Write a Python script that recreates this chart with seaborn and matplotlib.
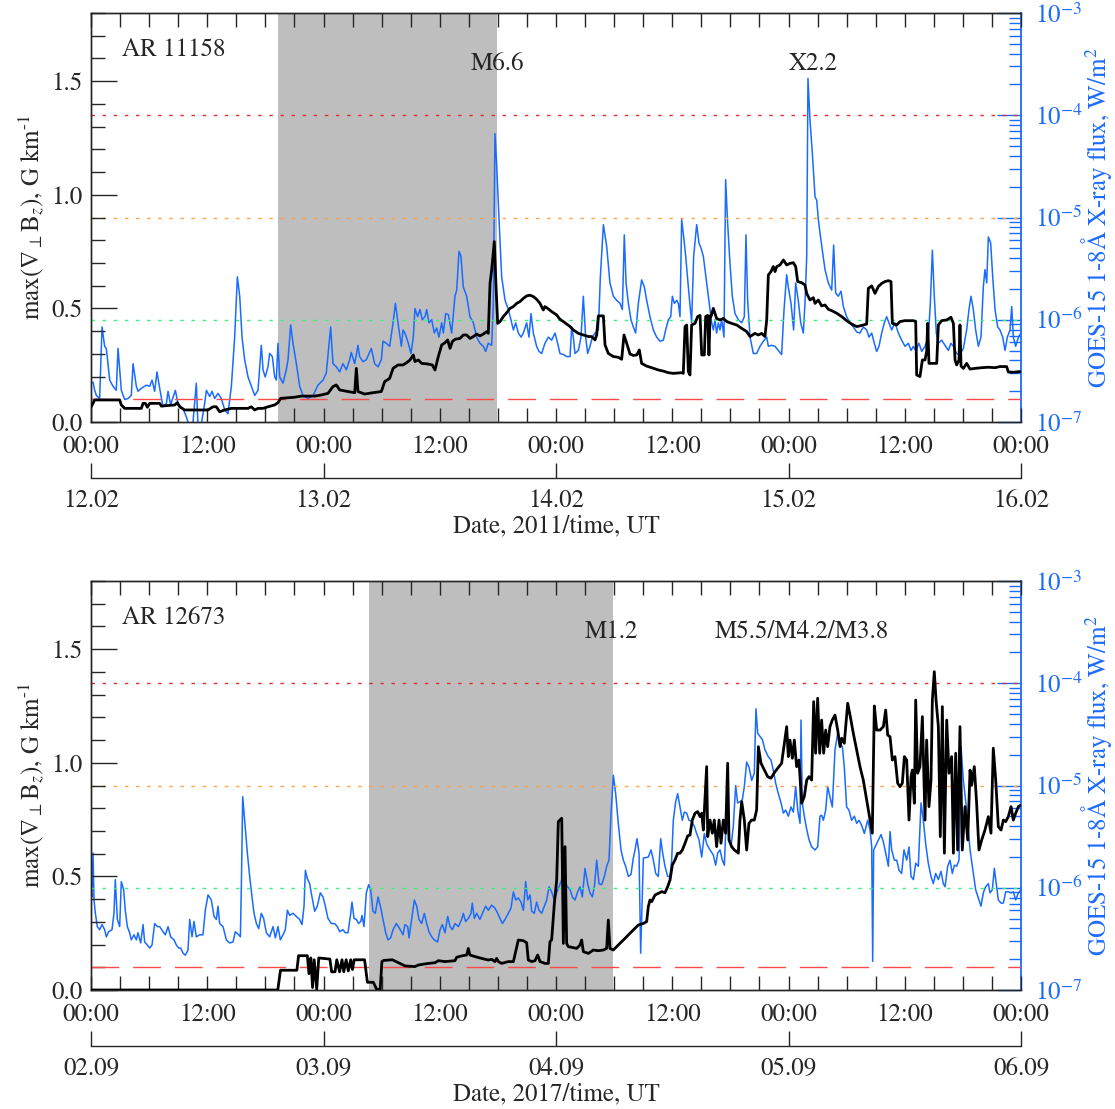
import numpy as np
import pandas as pd
import matplotlib
matplotlib.use("Agg")
import matplotlib.pyplot as plt
import seaborn as sns
from matplotlib.ticker import FixedLocator, MultipleLocator, LogLocator, NullFormatter, NullLocator

# ---------------- data (hours since start of each 4-day window) ----------------
# AR 11158 (12.02-16.02.2011): max gradient, G/km
AR11158_GRAD = [
    (0.0, 0.065), (0.38, 0.097), (2.96, 0.097), (3.13, 0.075), (3.48, 0.060), (5.20, 0.060), (5.37, 0.082),
    (5.61, 0.082), (5.82, 0.065), (6.06, 0.082), (7.09, 0.082), (7.26, 0.070), (8.64, 0.075), (8.91, 0.085),
    (9.15, 0.067), (9.67, 0.053), (12.08, 0.053), (12.59, 0.067), (12.94, 0.067), (13.28, 0.045), (13.80, 0.053),
    (14.49, 0.060), (16.21, 0.060), (16.55, 0.067), (16.90, 0.053), (17.24, 0.060), (17.76, 0.060), (18.27, 0.067),
    (18.96, 0.075), (19.30, 0.085), (19.58, 0.104), (21.02, 0.109), (21.71, 0.114), (23.09, 0.114), (23.78, 0.119),
    (24.46, 0.126), (24.98, 0.156), (25.33, 0.163), (25.67, 0.141), (26.53, 0.134), (27.22, 0.129), (27.39, 0.236),
    (27.56, 0.134), (28.25, 0.123), (29.11, 0.129), (29.97, 0.134), (30.32, 0.178), (30.83, 0.192), (31.18, 0.236),
    (31.69, 0.251), (32.21, 0.251), (32.58, 0.261), (32.93, 0.273), (33.27, 0.295), (33.44, 0.266), (33.79, 0.273),
    (34.13, 0.258), (34.82, 0.255), (35.23, 0.251), (35.51, 0.229), (35.68, 0.258), (35.85, 0.288), (36.20, 0.339),
    (36.54, 0.349), (36.82, 0.361), (37.06, 0.324), (37.30, 0.354), (37.57, 0.364), (38.09, 0.368), (38.43, 0.383),
    (38.78, 0.383), (39.12, 0.368), (39.47, 0.376), (39.81, 0.387), (40.15, 0.379), (40.50, 0.387), (40.84, 0.398),
    (41.01, 0.390), (41.19, 0.610), (41.36, 0.669), (41.63, 0.794), (41.81, 0.596), (41.98, 0.434), (42.22, 0.442),
    (42.56, 0.464), (42.91, 0.481), (43.25, 0.500), (43.60, 0.508), (43.94, 0.522), (44.28, 0.530), (44.63, 0.544),
    (44.97, 0.555), (45.32, 0.558), (45.66, 0.552), (46.00, 0.540), (46.35, 0.522), (46.69, 0.493), (46.86, 0.508),
    (47.14, 0.500), (47.55, 0.486), (48.07, 0.471), (48.41, 0.452), (48.76, 0.442), (49.10, 0.431), (49.45, 0.420),
    (49.79, 0.405), (50.31, 0.390), (50.82, 0.383), (51.34, 0.376), (51.68, 0.376), (52.03, 0.361), (52.20, 0.383),
    (52.37, 0.467), (52.89, 0.467), (53.06, 0.339), (53.40, 0.302), (53.92, 0.288), (54.43, 0.285), (54.78, 0.276),
    (55.02, 0.383), (55.30, 0.346), (55.64, 0.299), (55.98, 0.293), (56.33, 0.295), (56.60, 0.317), (56.84, 0.258),
    (57.36, 0.246), (57.88, 0.239), (58.56, 0.229), (59.08, 0.224), (59.60, 0.217), (60.11, 0.214), (60.97, 0.217),
    (61.14, 0.214), (61.32, 0.420), (61.49, 0.427), (61.66, 0.222), (61.83, 0.207), (62.00, 0.427), (62.35, 0.434),
    (62.62, 0.464), (62.87, 0.469), (63.04, 0.295), (63.31, 0.295), (63.45, 0.464), (63.66, 0.469), (63.79, 0.295),
    (63.90, 0.467), (64.00, 0.464), (64.24, 0.500), (64.58, 0.456), (64.93, 0.449), (65.27, 0.456), (65.62, 0.442),
    (66.13, 0.434), (66.65, 0.427), (67.17, 0.412), (67.68, 0.398), (68.03, 0.376), (68.54, 0.390), (68.89, 0.383),
    (69.23, 0.390), (69.57, 0.376), (69.75, 0.449), (69.92, 0.647), (70.19, 0.662), (70.43, 0.684), (70.61, 0.662),
    (70.78, 0.684), (71.12, 0.691), (71.47, 0.713), (71.81, 0.691), (72.15, 0.698), (72.50, 0.701), (72.74, 0.684),
    (72.95, 0.618), (73.36, 0.613), (73.70, 0.603), (73.88, 0.566), (74.22, 0.537), (74.56, 0.547), (74.74, 0.522),
    (75.08, 0.537), (75.42, 0.511), (75.77, 0.515), (76.11, 0.496), (76.46, 0.490), (76.97, 0.479), (77.49, 0.464),
    (78.00, 0.446), (78.52, 0.431), (79.04, 0.420), (79.38, 0.423), (79.72, 0.427), (80.07, 0.431), (80.24, 0.588),
    (80.59, 0.599), (80.93, 0.566), (81.27, 0.596), (81.62, 0.610), (81.96, 0.618), (82.31, 0.622), (82.58, 0.618),
    (82.72, 0.434), (83.17, 0.427), (83.51, 0.442), (84.03, 0.446), (84.89, 0.446), (85.13, 0.442), (85.23, 0.207),
    (85.57, 0.200), (85.82, 0.273), (86.09, 0.273), (86.26, 0.310), (86.37, 0.434), (86.50, 0.258), (86.78, 0.258),
    (87.30, 0.258), (87.47, 0.427), (87.81, 0.446), (88.33, 0.449), (88.77, 0.461), (89.02, 0.434), (89.19, 0.273),
    (89.36, 0.251), (89.60, 0.273), (89.70, 0.427), (89.81, 0.246), (90.05, 0.236), (90.39, 0.258), (90.74, 0.233),
    (91.25, 0.236), (91.94, 0.239), (92.63, 0.241), (93.32, 0.239), (93.83, 0.244), (94.52, 0.244), (94.69, 0.220),
    (95.21, 0.219), (95.90, 0.222),
]

# AR 11158: GOES-15 1-8 A flux, log10(W/m^2)
AR11158_GOES = [
    (0.0, -6.62), (0.21, -6.61), (0.38, -6.69), (0.55, -6.74), (0.89, -6.77), (1.14, -6.07), (1.41, -6.26),
    (1.58, -6.28), (1.93, -6.59), (2.27, -6.65), (2.61, -6.69), (2.79, -6.28), (2.96, -6.49), (3.13, -6.69),
    (3.48, -6.78), (3.82, -6.77), (4.16, -6.74), (4.34, -6.43), (4.68, -6.65), (4.85, -6.70), (5.20, -6.67),
    (5.71, -6.64), (6.06, -6.65), (6.30, -6.59), (6.57, -6.70), (6.81, -6.51), (7.09, -6.67), (7.43, -6.85),
    (7.78, -6.82), (7.95, -6.70), (8.22, -6.83), (8.71, -6.69), (8.98, -6.82), (9.50, -6.87), (9.84, -6.95),
    (10.19, -7.05), (10.53, -7.00), (10.87, -6.62), (11.05, -7.05), (11.39, -7.02), (11.73, -6.82), (11.91, -6.69),
    (12.25, -6.75), (12.49, -6.70), (12.77, -6.77), (13.11, -6.72), (13.45, -6.77), (13.80, -6.88), (14.14, -6.92),
    (14.49, -6.65), (14.83, -6.17), (15.11, -5.58), (15.35, -5.77), (15.59, -6.17), (15.86, -6.39), (16.21, -6.56),
    (16.55, -6.65), (16.90, -6.74), (17.24, -6.69), (17.58, -6.25), (17.76, -6.49), (17.98, -6.56), (18.27, -6.46),
    (18.44, -6.33), (18.72, -6.36), (18.96, -6.56), (19.13, -6.59), (19.30, -6.23), (19.48, -6.56), (19.82, -6.62),
    (20.16, -6.49), (20.34, -6.39), (20.61, -6.05), (20.85, -6.23), (21.20, -6.43), (21.54, -6.65), (21.88, -6.74),
    (22.40, -6.77), (22.92, -6.74), (23.43, -6.64), (23.95, -6.59), (24.29, -6.52), (24.74, -6.07), (24.98, -6.43),
    (25.33, -6.46), (25.67, -6.51), (26.01, -6.43), (26.36, -6.49), (26.70, -6.39), (26.87, -6.32), (27.22, -6.43),
    (27.56, -6.25), (27.73, -6.36), (28.08, -6.41), (28.42, -6.39), (28.94, -6.28), (29.28, -6.43), (29.63, -6.46),
    (29.97, -6.39), (30.14, -6.21), (30.49, -6.23), (30.83, -6.26), (31.18, -6.03), (31.42, -5.84), (31.69, -6.03),
    (32.04, -6.26), (32.21, -6.10), (32.41, -6.13), (32.76, -6.23), (33.03, -6.33), (33.27, -6.17), (33.44, -5.89),
    (33.72, -5.97), (33.96, -5.90), (34.20, -6.00), (34.48, -5.97), (34.65, -5.90), (34.89, -6.03), (35.17, -6.00),
    (35.44, -6.13), (35.68, -6.08), (35.92, -6.17), (36.20, -6.03), (36.37, -6.13), (36.61, -5.94), (36.89, -5.95),
    (37.23, -6.13), (37.57, -5.77), (37.75, -5.71), (37.99, -5.33), (38.19, -5.38), (38.43, -5.68), (38.78, -5.77),
    (39.12, -5.97), (39.47, -6.03), (39.81, -6.17), (40.15, -6.23), (40.50, -6.26), (40.74, -6.31), (41.01, -6.23),
    (41.36, -6.25), (41.53, -5.84), (41.70, -4.18), (41.87, -4.47), (42.12, -5.02), (42.39, -5.58), (42.74, -5.81),
    (43.08, -5.90), (43.35, -6.00), (43.60, -6.10), (43.84, -6.03), (44.11, -6.13), (44.39, -6.17), (44.63, -6.13),
    (44.97, -6.03), (45.21, -6.17), (45.42, -5.94), (45.66, -6.13), (46.00, -6.26), (46.25, -6.31), (46.52, -6.33),
    (46.86, -6.23), (47.21, -6.17), (47.55, -6.20), (47.90, -6.13), (48.17, -6.23), (48.41, -6.33), (48.76, -6.34),
    (49.10, -6.36), (49.45, -6.36), (49.62, -6.07), (49.79, -6.17), (49.96, -6.33), (50.31, -6.30), (50.58, -6.17),
    (50.82, -5.77), (51.06, -6.17), (51.27, -6.33), (51.51, -6.26), (51.75, -6.17), (52.03, -6.13), (52.37, -6.10),
    (52.58, -5.58), (52.89, -5.07), (53.23, -5.28), (53.57, -5.64), (53.92, -5.77), (54.26, -5.81), (54.61, -5.84),
    (54.85, -5.90), (55.05, -5.17), (55.23, -5.64), (55.47, -5.84), (55.74, -6.00), (55.98, -6.07), (56.22, -6.13),
    (56.50, -5.84), (56.84, -5.61), (57.12, -5.68), (57.36, -5.81), (57.70, -5.97), (58.05, -6.10), (58.39, -6.17),
    (58.74, -6.21), (59.08, -6.20), (59.32, -6.10), (59.60, -6.00), (59.84, -5.97), (60.01, -5.77), (60.22, -5.84),
    (60.46, -5.81), (60.63, -5.84), (60.80, -5.97), (60.97, -5.02), (61.18, -5.19), (61.39, -5.38), (61.66, -5.68),
    (62.00, -6.03), (62.21, -5.38), (62.52, -5.07), (62.76, -5.25), (62.97, -5.30), (63.21, -5.38), (63.55, -5.64),
    (63.90, -5.90), (64.07, -6.03), (64.24, -6.10), (64.41, -6.00), (64.58, -6.13), (64.76, -6.03), (64.93, -6.10),
    (65.10, -6.00), (65.34, -6.17), (65.51, -4.63), (65.72, -5.06), (65.96, -5.45), (66.20, -5.77), (66.48, -5.94),
    (66.82, -6.00), (67.17, -6.03), (67.44, -5.97), (67.61, -5.17), (67.78, -5.81), (68.03, -6.17), (68.37, -6.33),
    (68.71, -6.33), (69.06, -6.26), (69.40, -6.21), (69.75, -6.17), (69.92, -6.26), (70.26, -6.25), (70.61, -6.26),
    (70.95, -6.30), (71.29, -6.34), (71.54, -5.90), (71.81, -5.56), (71.98, -5.68), (72.26, -5.84), (72.53, -6.10),
    (72.74, -5.64), (73.01, -5.81), (73.26, -6.03), (73.53, -6.13), (73.70, -5.84), (73.88, -5.38), (74.01, -3.64),
    (74.22, -4.05), (74.46, -4.37), (74.74, -4.80), (74.91, -4.83), (75.08, -5.02), (75.25, -5.15), (75.49, -5.32),
    (75.77, -5.51), (76.11, -5.64), (76.46, -5.71), (76.66, -5.27), (76.87, -5.74), (77.14, -5.77), (77.42, -5.72),
    (77.66, -5.87), (78.00, -5.97), (78.35, -6.03), (78.69, -6.07), (79.04, -6.12), (79.38, -6.13), (79.72, -6.07),
    (80.07, -6.10), (80.31, -6.17), (80.59, -6.13), (80.86, -6.23), (81.10, -6.31), (81.34, -6.26), (81.62, -6.13),
    (81.89, -6.03), (82.13, -5.97), (82.37, -6.03), (82.65, -6.10), (82.99, -6.03), (83.34, -6.13), (83.68, -6.20),
    (84.03, -6.26), (84.37, -6.23), (84.65, -6.30), (84.89, -6.26), (85.13, -6.30), (85.47, -6.23), (85.75, -6.31),
    (86.09, -6.26), (86.43, -6.17), (86.64, -5.84), (86.85, -5.32), (87.05, -5.77), (87.26, -6.13), (87.47, -6.23),
    (87.81, -6.20), (88.16, -6.25), (88.50, -6.30), (88.77, -6.23), (89.02, -6.26), (89.36, -6.33), (89.70, -6.34),
    (90.05, -6.28), (90.39, -6.10), (90.63, -5.90), (90.84, -5.77), (91.08, -5.90), (91.32, -6.10), (91.60, -6.26),
    (91.87, -6.17), (92.11, -5.68), (92.28, -5.51), (92.46, -5.64), (92.63, -5.19), (92.87, -5.25), (93.08, -5.58),
    (93.32, -5.90), (93.59, -6.07), (93.83, -6.10), (94.11, -6.17), (94.35, -6.30), (94.59, -6.17), (94.87, -6.10),
    (95.04, -5.87), (95.21, -6.17), (95.45, -6.26), (95.73, -6.17), (96.0, -6.13),
]

# AR 12673 (02.09-06.09.2017): max gradient, G/km
AR12673_GRAD = [
    (0.0, 0.0), (19.28, 0.0), (19.56, 0.087), (21.25, 0.087), (21.43, 0.151), (22.33, 0.151), (22.50, 0.072),
    (22.69, 0.141), (22.87, 0.011), (23.04, 0.133), (23.30, 0.003), (23.51, 0.141), (24.66, 0.136), (24.84, 0.080),
    (25.19, 0.080), (25.37, 0.133), (25.66, 0.080), (25.91, 0.133), (26.09, 0.080), (26.34, 0.133), (26.56, 0.084),
    (26.81, 0.133), (26.99, 0.090), (27.17, 0.133), (28.24, 0.133), (28.53, 0.034), (29.14, 0.034), (29.49, 0.003),
    (29.85, 0.003), (30.03, 0.125), (30.21, 0.130), (31.11, 0.133), (32.41, 0.106), (33.44, 0.103), (33.79, 0.110),
    (34.82, 0.117), (35.51, 0.120), (35.85, 0.129), (36.54, 0.125), (37.57, 0.129), (37.75, 0.144), (38.26, 0.150),
    (38.78, 0.154), (38.95, 0.183), (39.12, 0.154), (39.64, 0.147), (40.33, 0.139), (41.01, 0.132), (41.36, 0.135),
    (41.70, 0.125), (41.87, 0.139), (42.05, 0.125), (42.39, 0.117), (43.08, 0.125), (43.60, 0.125), (44.11, 0.220),
    (44.63, 0.217), (44.97, 0.208), (45.14, 0.132), (45.49, 0.125), (45.83, 0.129), (46.11, 0.154), (46.35, 0.125),
    (46.86, 0.117), (47.21, 0.117), (47.38, 0.213), (47.55, 0.220), (47.83, 0.381), (48.07, 0.484), (48.24, 0.741),
    (48.59, 0.756), (48.76, 0.205), (48.93, 0.631), (49.10, 0.205), (49.27, 0.191), (49.62, 0.188), (50.13, 0.183),
    (50.48, 0.198), (50.65, 0.220), (50.82, 0.169), (51.34, 0.161), (51.85, 0.176), (52.37, 0.173), (52.89, 0.176),
    (53.23, 0.183), (53.40, 0.308), (53.57, 0.183), (53.92, 0.176), (54.43, 0.198), (55.12, 0.227), (55.81, 0.257),
    (56.50, 0.286), (57.02, 0.293), (57.36, 0.301), (57.53, 0.367), (57.70, 0.396), (57.88, 0.389), (58.22, 0.418),
    (58.56, 0.425), (58.91, 0.433), (59.25, 0.428), (59.53, 0.455), (59.77, 0.484), (60.01, 0.550), (60.28, 0.572),
    (60.56, 0.602), (60.80, 0.602), (61.04, 0.616), (61.32, 0.646), (61.59, 0.678), (61.83, 0.682), (62.07, 0.748),
    (62.35, 0.778), (62.62, 0.785), (62.87, 0.763), (63.04, 0.778), (63.21, 0.704), (63.55, 0.983), (63.66, 0.675),
    (63.90, 0.748), (64.14, 0.690), (64.34, 0.748), (64.58, 0.631), (64.83, 0.748), (65.03, 0.646), (65.27, 0.748),
    (65.51, 0.690), (65.72, 0.998), (65.86, 0.660), (66.13, 0.631), (66.41, 0.616), (66.65, 0.609), (66.82, 0.602),
    (66.99, 0.748), (67.17, 0.829), (67.44, 0.748), (67.68, 0.616), (67.92, 0.734), (68.20, 0.748), (68.47, 0.748),
    (68.71, 0.792), (68.89, 1.071), (69.16, 0.998), (69.51, 0.968), (69.85, 0.939), (70.19, 0.932), (70.61, 0.961),
    (71.02, 0.983), (71.29, 0.998), (71.57, 1.086), (71.81, 1.159), (71.98, 1.027), (72.15, 1.100), (72.40, 1.020),
    (72.60, 1.100), (72.84, 0.983), (73.08, 1.012), (73.36, 0.822), (73.63, 0.851), (73.88, 0.924), (74.12, 0.939),
    (74.39, 0.924), (74.60, 1.269), (74.80, 1.042), (75.01, 1.284), (75.22, 1.042), (75.42, 1.188), (75.63, 1.042),
    (75.84, 1.144), (76.04, 1.071), (76.28, 1.159), (76.52, 1.188), (76.80, 1.210), (77.08, 1.144), (77.32, 1.071),
    (77.49, 1.108), (77.76, 1.086), (78.11, 1.262), (78.38, 1.203), (78.69, 1.130), (79.04, 1.056), (79.38, 0.983),
    (79.72, 0.924), (80.07, 0.836), (80.41, 0.748), (80.65, 0.690), (80.86, 1.250), (81.10, 1.144), (81.45, 1.144),
    (81.79, 1.159), (82.03, 1.232), (82.24, 1.122), (82.48, 1.115), (82.72, 1.012), (82.99, 1.027), (83.27, 0.910),
    (83.51, 0.895), (83.75, 0.910), (83.96, 1.027), (84.20, 1.012), (84.44, 0.748), (84.65, 0.939), (84.78, 0.968),
    (84.99, 0.822), (85.13, 1.276), (85.33, 0.954), (85.57, 0.983), (85.82, 1.203), (86.09, 0.748), (86.26, 1.100),
    (86.50, 0.807), (86.71, 0.924), (86.85, 1.276), (87.05, 1.401), (87.23, 1.276), (87.47, 1.159), (87.67, 0.675),
    (87.88, 1.247), (88.09, 0.602), (88.33, 1.188), (88.57, 0.954), (88.84, 1.027), (89.02, 0.602), (89.26, 1.042),
    (89.46, 0.616), (89.70, 1.159), (89.94, 0.616), (90.22, 0.807), (90.50, 0.660), (90.74, 0.968), (90.91, 0.902),
    (91.18, 0.983), (91.42, 0.822), (91.66, 0.616), (91.94, 0.660), (92.28, 0.704), (92.63, 0.763), (92.90, 0.690),
    (93.14, 1.064), (93.39, 0.924), (93.66, 0.719), (93.94, 0.704), (94.18, 0.748), (94.42, 0.741), (94.69, 0.763),
    (94.97, 0.807), (95.21, 0.748), (95.45, 0.778), (95.73, 0.807), (96.0, 0.814),
]

# AR 12673: GOES-15 1-8 A flux, log10(W/m^2)
AR12673_GOES = [
    (0.0, -6.05), (0.10, -6.09), (0.21, -5.66), (0.31, -6.12), (0.45, -6.25), (0.65, -6.38), (0.89, -6.41),
    (1.14, -6.36), (1.41, -6.41), (1.58, -6.48), (1.82, -6.43), (2.17, -6.41), (2.37, -6.25), (2.51, -5.92),
    (2.72, -6.31), (2.96, -6.38), (3.13, -5.94), (3.37, -6.02), (3.54, -6.22), (3.75, -6.38), (3.99, -6.44),
    (4.16, -6.51), (4.44, -6.46), (4.68, -6.51), (4.85, -6.44), (5.13, -6.54), (5.37, -6.36), (5.54, -6.53),
    (5.82, -6.56), (6.06, -6.59), (6.30, -6.56), (6.57, -6.35), (6.85, -6.38), (7.09, -6.38), (7.43, -6.43),
    (7.67, -6.46), (7.95, -6.38), (8.22, -6.48), (8.57, -6.51), (8.81, -6.56), (9.05, -6.59), (9.26, -6.59),
    (9.50, -6.64), (9.74, -6.66), (10.01, -6.61), (10.19, -6.31), (10.43, -6.48), (10.63, -6.33), (10.87, -6.48),
    (11.22, -6.46), (11.56, -6.46), (11.80, -6.22), (12.08, -6.07), (12.42, -6.12), (12.70, -6.28), (12.94, -6.31),
    (13.11, -6.18), (13.28, -6.35), (13.63, -6.38), (13.97, -6.51), (14.31, -6.54), (14.66, -6.53), (14.90, -6.43),
    (15.24, -6.46), (15.42, -6.48), (15.52, -5.99), (15.66, -5.11), (15.86, -5.34), (16.14, -5.66), (16.38, -5.89),
    (16.62, -6.09), (16.83, -6.25), (17.07, -6.35), (17.31, -6.40), (17.58, -6.25), (17.82, -6.30), (18.10, -6.44),
    (18.44, -6.48), (18.79, -6.38), (19.03, -6.49), (19.30, -6.38), (19.55, -6.51), (19.82, -6.46), (20.06, -6.41),
    (20.27, -6.22), (20.51, -6.27), (20.85, -6.25), (21.20, -6.28), (21.54, -6.31), (21.78, -6.36), (21.99, -6.18),
    (22.13, -5.83), (22.33, -5.91), (22.57, -5.96), (22.81, -6.09), (23.09, -6.23), (23.36, -6.18), (23.67, -6.05),
    (23.95, -6.09), (24.19, -6.18), (24.46, -6.30), (24.81, -6.35), (25.15, -6.35), (25.43, -6.38), (25.67, -6.43),
    (26.01, -6.41), (26.25, -6.44), (26.53, -6.44), (26.81, -6.25), (26.94, -6.14), (27.15, -6.30), (27.39, -6.31),
    (27.63, -6.35), (27.84, -6.33), (27.98, -6.27), (28.18, -6.38), (28.42, -6.05), (28.66, -5.97), (28.87, -6.02),
    (29.11, -6.23), (29.35, -6.25), (29.63, -6.09), (29.87, -6.18), (30.14, -6.31), (30.42, -6.44), (30.66, -6.51),
    (30.93, -6.49), (31.18, -6.41), (31.52, -6.35), (31.86, -6.40), (32.21, -6.46), (32.41, -6.36), (32.69, -6.38),
    (32.83, -6.49), (33.38, -6.12), (33.62, -6.18), (33.86, -6.31), (34.13, -6.35), (34.41, -6.25), (34.65, -6.35),
    (34.89, -6.43), (35.17, -6.48), (35.44, -6.51), (35.78, -6.53), (36.03, -6.41), (36.27, -6.36), (36.54, -6.44),
    (36.82, -6.28), (37.06, -6.38), (37.30, -6.41), (37.57, -6.35), (37.92, -6.38), (38.26, -6.31), (38.43, -6.25),
    (38.67, -6.33), (38.95, -6.30), (39.23, -6.25), (39.36, -6.15), (39.57, -6.30), (39.81, -6.25), (40.15, -6.31),
    (40.50, -6.23), (40.74, -6.18), (41.01, -6.22), (41.36, -6.17), (41.70, -6.20), (41.98, -6.25), (42.22, -6.30),
    (42.46, -6.35), (42.74, -6.31), (43.08, -6.25), (43.35, -6.20), (43.60, -6.04), (43.84, -6.12), (44.11, -6.10),
    (44.39, -6.14), (44.63, -6.22), (44.87, -5.94), (45.08, -6.12), (45.32, -6.07), (45.49, -6.23), (45.76, -6.25),
    (46.00, -6.14), (46.25, -6.22), (46.52, -6.25), (46.80, -6.18), (47.04, -6.12), (47.28, -5.99), (47.55, -6.04),
    (47.83, -6.12), (48.07, -6.05), (48.31, -5.99), (48.59, -5.92), (48.76, -5.86), (48.93, -5.96), (49.20, -5.99),
    (49.45, -6.02), (49.69, -6.09), (49.96, -6.12), (50.24, -6.04), (50.48, -5.99), (50.72, -6.09), (50.99, -5.81),
    (51.27, -5.96), (51.51, -6.05), (51.75, -6.09), (51.96, -5.99), (52.20, -5.73), (52.44, -5.96), (52.71, -5.97),
    (52.99, -5.89), (53.23, -5.79), (53.47, -5.73), (53.68, -5.27), (53.92, -4.90), (54.16, -5.08), (54.43, -5.37),
    (54.71, -5.63), (54.95, -5.73), (55.19, -5.79), (55.47, -5.89), (55.74, -5.87), (55.98, -5.71), (56.16, -5.63),
    (56.36, -5.52), (56.57, -5.66), (56.74, -6.64), (57.02, -5.71), (57.53, -5.70), (57.81, -5.63), (58.05, -5.73),
    (58.29, -5.86), (58.56, -5.89), (58.81, -5.52), (59.01, -5.66), (59.25, -5.79), (59.53, -5.89), (59.77, -5.89),
    (59.94, -5.73), (60.11, -5.34), (60.35, -5.16), (60.56, -5.08), (60.80, -5.21), (61.04, -5.34), (61.25, -5.26),
    (61.49, -5.27), (61.73, -5.34), (62.00, -5.35), (62.28, -5.40), (62.52, -5.47), (62.76, -5.53), (63.04, -5.70),
    (63.31, -5.47), (63.55, -5.57), (63.90, -5.63), (64.24, -5.68), (64.48, -5.78), (64.69, -5.66), (64.93, -5.63),
    (65.17, -5.73), (65.38, -5.78), (65.62, -5.21), (65.79, -5.47), (66.06, -5.60), (66.30, -5.40), (66.55, -5.00),
    (66.75, -5.17), (66.99, -5.16), (67.23, -5.14), (67.44, -5.01), (67.68, -4.77), (67.92, -4.82), (68.20, -4.95),
    (68.47, -4.88), (68.64, -4.25), (68.82, -4.49), (69.06, -4.52), (69.30, -4.55), (69.57, -4.65), (69.92, -4.72),
    (70.19, -4.75), (70.43, -4.85), (70.68, -4.98), (70.95, -5.08), (71.23, -5.17), (71.47, -5.27), (71.71, -5.24),
    (71.98, -5.30), (72.26, -5.21), (72.50, -5.26), (72.74, -5.01), (72.95, -5.24), (73.19, -5.37), (73.29, -4.36),
    (73.43, -5.17), (73.63, -5.30), (73.88, -5.43), (74.12, -5.53), (74.39, -5.60), (74.74, -5.63), (75.01, -5.60),
    (75.25, -5.30), (75.42, -5.29), (75.60, -5.34), (75.84, -5.24), (76.04, -5.01), (76.28, -5.11), (76.52, -5.21),
    (76.80, -4.65), (77.08, -4.49), (77.32, -4.59), (77.56, -4.62), (77.76, -4.82), (78.00, -5.21), (78.24, -5.24),
    (78.52, -5.34), (78.80, -5.30), (79.04, -5.37), (79.28, -5.34), (79.55, -5.39), (79.83, -5.47), (80.17, -5.34),
    (80.41, -5.43), (80.59, -5.60), (80.69, -6.72), (80.79, -5.63), (81.55, -5.48), (81.79, -5.55), (82.03, -5.66),
    (82.31, -5.79), (82.48, -5.45), (82.65, -5.63), (82.93, -5.73), (83.17, -5.73), (83.41, -5.83), (83.68, -5.86),
    (83.92, -5.63), (84.20, -5.73), (84.44, -5.60), (84.65, -5.89), (84.89, -5.92), (85.13, -5.76), (85.40, -5.79),
    (85.68, -5.17), (85.92, -5.34), (86.16, -5.57), (86.43, -5.76), (86.71, -5.89), (86.95, -5.96), (87.19, -5.86),
    (87.47, -5.92), (87.74, -5.84), (87.98, -5.96), (88.16, -5.99), (88.43, -5.79), (88.67, -5.73), (88.91, -5.86),
    (89.12, -5.78), (89.36, -5.79), (89.60, -5.73), (89.81, -4.62), (90.05, -4.95), (90.39, -5.24), (90.74, -5.63),
    (91.08, -5.86), (91.32, -6.02), (91.60, -6.10), (91.87, -6.18), (92.11, -6.05), (92.35, -5.99), (92.63, -5.96),
    (92.80, -6.05), (93.04, -6.02), (93.25, -5.81), (93.39, -5.92), (93.66, -6.12), (93.94, -6.15), (94.18, -6.15),
    (94.42, -6.04), (94.69, -6.04), (94.97, -6.05), (95.21, -6.04), (95.45, -6.12), (95.73, -6.05), (96.0, -6.02),
]

TIME_TICKS = [0, 12, 24, 36, 48, 60, 72, 84, 96]
TIME_LABELS = ["00:00", "12:00", "00:00", "12:00", "00:00", "12:00", "00:00", "12:00", "00:00"]
DAY_TICKS = [0, 24, 48, 72, 96]
DATES_2011 = ["12.02", "13.02", "14.02", "15.02", "16.02"]
DATES_2017 = ["02.09", "03.09", "04.09", "05.09", "06.09"]
SHADE_2011 = (19.3, 41.9)
SHADE_2017 = (28.7, 53.9)
FLARES_2011 = [(42.0, "M6.6"), (74.6, "X2.2")]
FLARES_2017 = [(53.7, "M1.2"), (73.4, "M5.5/M4.2/M3.8")]
GOES_CLASSES = [(1e-4, "#e0302a"), (1e-5, "#ffa347"), (1e-6, "#3cf07c")]
GRAD_THRESHOLD = 0.1

# ---------------- style ----------------
sns.set_style("ticks")
plt.rcParams["font.family"] = ["STIXGeneral", "DejaVu Serif"]
plt.rcParams["mathtext.fontset"] = "stix"
plt.rcParams["font.size"] = 18
plt.rcParams["axes.linewidth"] = 1.0
BLUE = "#1a6bff"
GRAY = "#bebebe"

W, H = 1115, 1109
fig = plt.figure(figsize=(W / 100, H / 100), dpi=100)


def panel(top_px, grad, goes, shade, ar_text, flares, dates, xlabel):
    left, right, height = 91, 1021, 409
    ax = fig.add_axes([left / W, (H - top_px - height) / H, (right - left) / W, height / H])
    ax2 = ax.twinx()
    ax.set_zorder(ax2.get_zorder() + 1)
    ax.patch.set_visible(False)

    gh, gv = zip(*grad)
    xh, xl = zip(*goes)
    df_grad = pd.DataFrame({"hours": gh, "grad": gv})
    df_goes = pd.DataFrame({"hours": xh, "flux": 10.0 ** np.asarray(xl)})

    # shaded interval and GOES curve on the flux axis (behind)
    ax2.axvspan(shade[0], shade[1], color=GRAY, lw=0, zorder=0)
    sns.lineplot(data=df_goes, x="hours", y="flux", ax=ax2, color=BLUE, lw=1.1,
                 estimator=None, sort=False, errorbar=None, zorder=2)
    ax2.set_yscale("log")
    ax2.set_ylim(1e-7, 1e-3)
    for lvl, col in GOES_CLASSES:
        ax2.axhline(lvl, color=col, lw=1.0, ls=(0, (2.5, 5.5)), zorder=3)

    # gradient curve on the left axis (on top)
    ax.axhline(GRAD_THRESHOLD, color="#ff4a4a", lw=1.0, ls=(0, (20, 10)), zorder=1)
    sns.lineplot(data=df_grad, x="hours", y="grad", ax=ax, color="black", lw=2.0,
                 estimator=None, sort=False, errorbar=None, zorder=4)

    ax.set_xlim(0, 96)
    ax.set_ylim(0, 1.8)
    ax.xaxis.set_major_locator(FixedLocator(TIME_TICKS))
    ax.set_xticklabels(TIME_LABELS)
    ax.xaxis.set_minor_locator(MultipleLocator(3))
    ax.yaxis.set_major_locator(MultipleLocator(0.5))
    ax.yaxis.set_minor_locator(MultipleLocator(0.1))
    ax.yaxis.set_major_formatter(matplotlib.ticker.FormatStrFormatter("%.1f"))
    ax.tick_params(axis="x", which="both", direction="in", length=10, width=1.0,
                   top=True, bottom=True, pad=9)
    ax.tick_params(axis="y", which="major", direction="in", length=19, width=1.0, right=False, pad=6)
    ax.tick_params(axis="y", which="minor", direction="in", length=10, width=1.0, right=False)
    ax.spines["right"].set_visible(False)

    ax2.yaxis.set_minor_locator(LogLocator(base=10, subs=np.arange(2, 10), numticks=10))
    ax2.yaxis.set_minor_formatter(NullFormatter())
    ax2.set_yticks([1e-7, 1e-6, 1e-5, 1e-4, 1e-3],
                   [r"10$^{-7}$", r"10$^{-6}$", r"10$^{-5}$", r"10$^{-4}$", r"10$^{-3}$"])
    ax2.tick_params(axis="y", which="major", direction="in", length=17, width=1.0, colors=BLUE, pad=10)
    ax2.tick_params(axis="y", which="minor", direction="in", length=9, width=1.0, colors=BLUE)
    ax2.spines["right"].set_color(BLUE)
    ax2.spines["right"].set_linewidth(1.3)

    ax.set_xlabel("")
    ax.set_ylabel(r"max($\mathrm{\nabla}_{\perp}$B$_{z}$), G km$^{\text{-1}}$")
    ax.yaxis.set_label_coords(-0.047, 0.5)
    ax2.set_ylabel(r"GOES-15 1-8$\mathrm{\AA}$ X-ray flux, W/m$^{2}$", color=BLUE)
    ax2.yaxis.set_label_coords(1.062, 0.5)

    ax.text(3.2, 1.635, ar_text, ha="left", va="center")
    for h, txt in flares:
        ax.text(h, 1.575, txt, ha="center", va="center")

    sec = ax.secondary_xaxis(-56 / 409)
    sec.set_xticks(DAY_TICKS, dates)
    sec.xaxis.set_minor_locator(NullLocator())
    sec.tick_params(axis="x", direction="in", length=11, width=1.0, pad=8)
    sec.set_xlabel(xlabel, labelpad=1)
    return ax


panel(13, AR11158_GRAD, AR11158_GOES, SHADE_2011, "AR 11158", FLARES_2011, DATES_2011,
      "Date, 2011/time, UT")
panel(581, AR12673_GRAD, AR12673_GOES, SHADE_2017, "AR 12673", FLARES_2017, DATES_2017,
      "Date, 2017/time, UT")

fig.savefig("out.png", dpi=100)
